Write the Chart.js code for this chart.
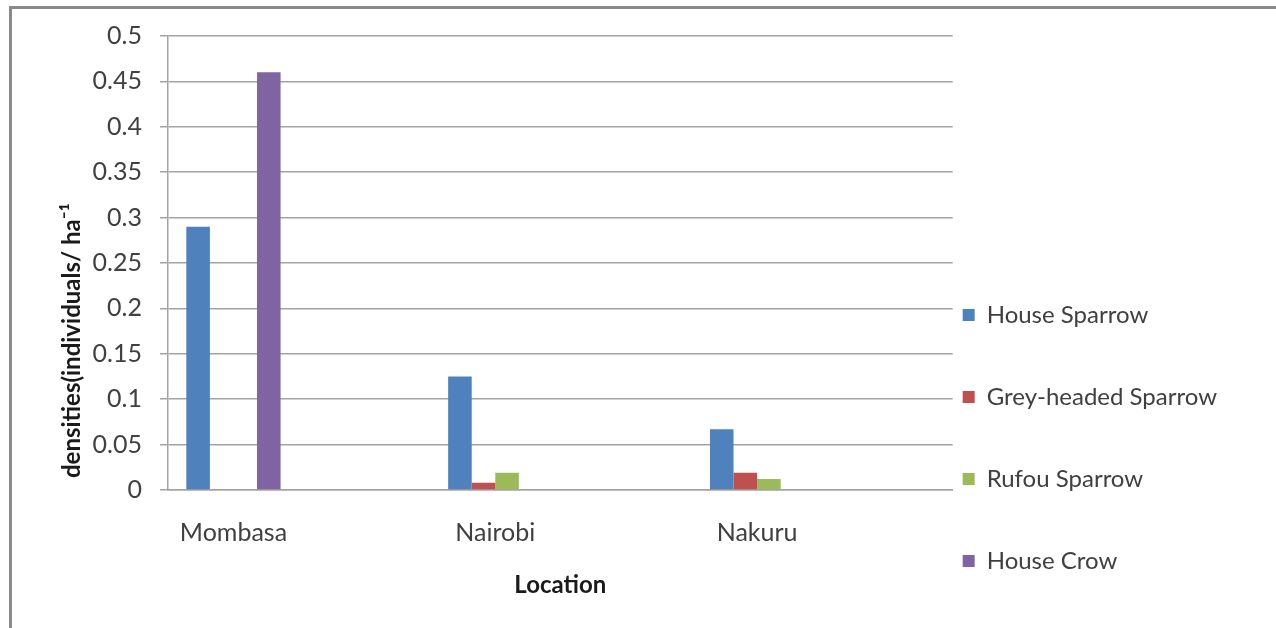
<!DOCTYPE html>
<html>
<head>
<meta charset="utf-8">
<script src="https://cdn.jsdelivr.net/npm/chart.js@4.4.1/dist/chart.umd.min.js"></script>
<style>
  html, body { margin: 0; padding: 0; background: #ffffff; }
  #wrap { position: relative; width: 1276px; height: 628px; }
  #frame {
    position: absolute; left: 9px; top: 6px; right: 0; bottom: 0;
    border-left: 3px solid #8a8a8a; border-top: 3px solid #8a8a8a;
    pointer-events: none;
  }
  canvas { position: absolute; left: 0; top: 0; }
</style>
</head>
<body>
<div id="wrap">
  <canvas id="chart" width="1276" height="628"></canvas>
  <div id="frame"></div>
</div>
<script>
// Bird densities by location
const locations = ['Mombasa', 'Nairobi', 'Nakuru'];
const houseSparrow = [0.29, 0.125, 0.067];
const greyHeadedSparrow = [0, 0.008, 0.019];
const rufousSparrow = [0, 0.019, 0.012];
const houseCrow = [0.46, 0, 0];
const seriesNames = ['House Sparrow', 'Grey-headed Sparrow', 'Rufou Sparrow', 'House Crow'];
const yTicks = [0, 0.05, 0.1, 0.15, 0.2, 0.25, 0.3, 0.35, 0.4, 0.45, 0.5];

const colors = ['#4f81bd', '#c0504d', '#9bbb59', '#8064a2'];
const gridColor = '#a3a3a3';
const fontFamily = 'Lato, "Open Sans", sans-serif';

const seriesValues = [houseSparrow, greyHeadedSparrow, rufousSparrow, houseCrow];

// locations sit at x = 0, 1, 2 on a numeric axis so the group spacing can be set freely
const xPositions = locations.map((_, i) => i);

new Chart(document.getElementById('chart'), {
  type: 'bar',
  data: {
    datasets: seriesNames.map((name, i) => ({
      label: name,
      data: seriesValues[i].map((v, j) => ({ x: xPositions[j], y: v })),
      backgroundColor: colors[i],
      borderWidth: 0,
      categoryPercentage: 0.36,
      barPercentage: 1.0
    }))
  },
  options: {
    responsive: false,
    animation: false,
    devicePixelRatio: 1,
    layout: { padding: { top: 36, right: 49, bottom: -3, left: 0 } },
    plugins: {
      tooltip: { enabled: false },
      legend: {
        position: 'right',
        align: 'end',
        labels: {
          font: { family: fontFamily, size: 24, lineHeight: 3 },
          color: '#404040',
          boxWidth: 12,
          boxHeight: 12,
          padding: 10,
          // single-line arrays so each entry takes the font's full line height
          generateLabels: (chart) =>
            Chart.defaults.plugins.legend.labels.generateLabels(chart)
              .map(item => Object.assign(item, { text: [item.text] }))
        }
      }
    },
    scales: {
      x: {
        type: 'linear',
        offset: false,
        min: -0.25,
        max: 2.747,
        afterBuildTicks: (scale) => { scale.ticks = xPositions.map(v => ({ value: v })); },
        grid: { display: false, drawTicks: false },
        border: { display: true, color: gridColor, width: 1.5 },
        ticks: {
          font: { family: fontFamily, size: 25 },
          color: '#404040',
          padding: 28,
          callback: (v) => locations[v]
        },
        title: {
          display: true,
          text: 'Location',
          font: { family: fontFamily, size: 24, weight: 'bold' },
          color: '#1a1a1a',
          padding: { top: 0, bottom: 31 }
        },
        afterFit: (scale) => { scale.height = 141; }
      },
      y: {
        min: 0,
        max: 0.5,
        afterBuildTicks: (scale) => { scale.ticks = yTicks.map(v => ({ value: v })); },
        grid: { color: gridColor, lineWidth: 1.5, tickLength: 8, drawTicks: true },
        border: { display: true, color: gridColor, width: 1.5 },
        ticks: {
          font: { family: fontFamily, size: 25 },
          color: '#404040',
          padding: 18,
          callback: (v) => String(+v.toFixed(2))
        },
        title: {
          display: true,
          align: 'start',
          text: '\u2002densities(individuals/ ha\u207B\u00B9',
          font: { family: fontFamily, size: 24, weight: 'bold' },
          color: '#1a1a1a',
          padding: { top: 58, bottom: 0 }
        },
        afterFit: (scale) => { scale.width = 168; }
      }
    }
  }
});
</script>
</body>
</html>
